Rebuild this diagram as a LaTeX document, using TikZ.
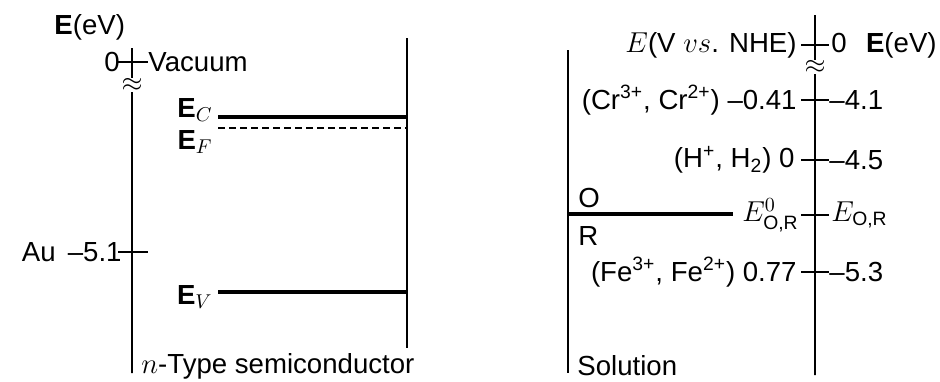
\documentclass[tikz,border=0pt]{standalone}
\usepackage{amsmath}
\usepackage{fontspec}
\setmainfont{Liberation Sans}
\usetikzlibrary{positioning}

\begin{document}
\begin{tikzpicture}[x=0.5pt,y=-0.5pt]
 \tikzstyle{lbl}=[inner sep=0pt,font=\fontsize{13.8}{15}\selectfont]
 \tikzstyle{axisline}=[line width=0.9pt]
 \tikzstyle{bandline}=[line width=1.6pt]
 \tikzstyle{tickline}=[line width=0.6pt]
 \tikzstyle{brk}=[inner sep=0pt,scale=1.35]
 \useasboundingbox (0,0) rectangle (940,381);

 % semiconductor side
 \coordinate (la top) at (132,48);
 \coordinate (la bot) at (132,373);
 \node[brk] (lbrk) at (132,85) {$\approx$};
 \draw[axisline] (la top) -- (lbrk) -- (la bot);
 \coordinate (vac) at (132,62);
 \coordinate (au) at (132,252);
 \draw[tickline] ([xshift=-7]vac) -- ([xshift=8]vac);
 \draw[tickline] ([xshift=-7]au) -- ([xshift=8]au);
 \node[lbl,anchor=west] (eaxisL) at (54,27) {\textbf{E}(eV)};
 \node[lbl,left=6pt of vac] (zeroL) {0};
 \node[lbl,right=8pt of vac] (vacuum) {Vacuum};
 \node[lbl,left=5pt of au] (aulbl) {Au \,\textendash5.1};

 \coordinate (sc top) at (407,38);
 \coordinate (sc bot) at (407,348);
 \draw[axisline] (sc top) -- (sc bot);
 \coordinate (ec) at (218,117);
 \coordinate (ef) at (218,128);
 \coordinate (ev) at (218,292);
 \draw[bandline] (ec) -- (ec -| sc top);
 \draw[line width=0.8pt,dash pattern=on 3.5pt off 2pt] (ef) -- (ef -| sc top);
 \draw[bandline] (ev) -- (ev -| sc top);
 \node[lbl,anchor=east] (eclbl) at (213,110) {\textbf{E}$_C$};
 \node[lbl,anchor=east] (eflbl) at (213,142) {\textbf{E}$_F$};
 \node[lbl,anchor=east] (evlbl) at (213,297) {\textbf{E}$_V$};
 \node[lbl,anchor=west] (sclbl) at (141,366) {$n$-Type semiconductor};

 % solution side
 \coordinate (sol top) at (568,50);
 \coordinate (sol bot) at (568,373);
 \draw[axisline] (sol top) -- (sol bot);
 \coordinate (ra top) at (815,15);
 \coordinate (ra bot) at (815,375);
 \node[brk] (rbrk) at (815,67) {$\approx$};
 \draw[axisline] (ra top) -- (rbrk) -- (ra bot);
 \coordinate (nhe) at (815,45);
 \coordinate (cr) at (815,100);
 \coordinate (hyd) at (815,160);
 \coordinate (eor) at (815,215);
 \coordinate (fe) at (815,272);
 \foreach \t in {nhe,cr,hyd,eor,fe}
   \draw[tickline] ([xshift=-7]\t) -- ([xshift=7]\t);

 \node[lbl,left=9pt of nhe] (nhelbl) {$E$(V $vs$. NHE)};
 \node[lbl,right=8pt of nhe] (zeroR) {0\hspace{0.7em}\textbf{E}(eV)};
 \node[lbl,left=9pt of cr] (crlbl)
   {(Cr\textsuperscript{3+}, Cr\textsuperscript{2+}) \textendash0.41};
 \node[lbl,right=7pt of cr] (crev) {\textendash4.1};
 \node[lbl,left=10pt of hyd] (hydlbl)
   {(H\textsuperscript{+}, H\textsubscript{2}) 0};
 \node[lbl,right=7pt of hyd] (hydev) {\textendash4.5};
 \node[lbl,left=8pt of eor] (e0lbl) {$E^0_{\text{O,R}}$};
 \node[lbl,right=8pt of eor] (eorlbl) {$E_{\text{O,R}}$};
 \node[lbl,left=9pt of fe] (felbl)
   {(Fe\textsuperscript{3+}, Fe\textsuperscript{2+}) 0.77};
 \node[lbl,right=7pt of fe] (feev) {\textendash5.3};

 \coordinate (or end) at (733,214);
 \draw[bandline] (or end -| sol top) -- (or end);
 \node[lbl,anchor=south west] (olbl) at (578,208) {O};
 \node[lbl,anchor=north west] (rlbl) at (578,226) {R};
 \node[lbl,anchor=west] (sollbl) at (577,366) {Solution};
\end{tikzpicture}
\end{document}
